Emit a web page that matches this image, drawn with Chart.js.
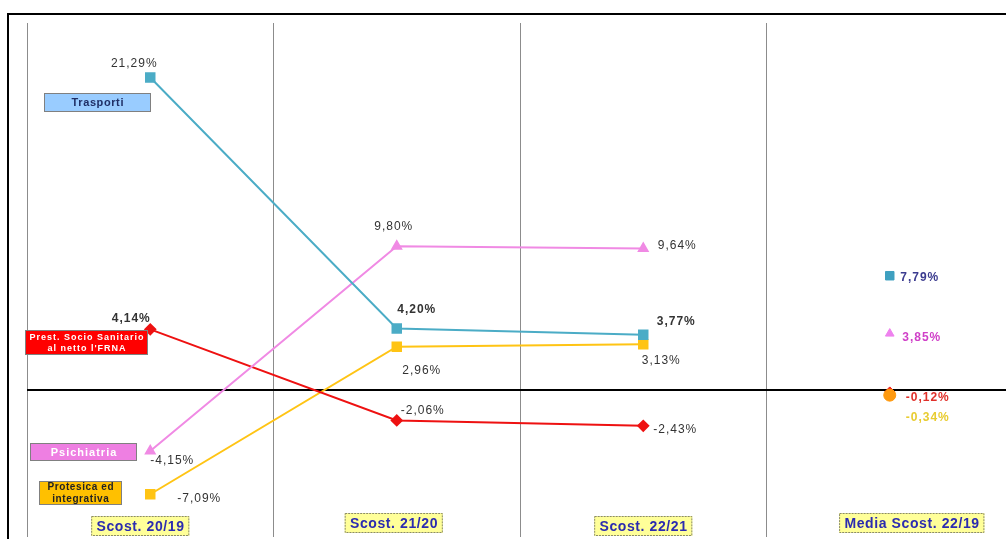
<!DOCTYPE html>
<html>
<head>
<meta charset="utf-8">
<script src="https://cdn.jsdelivr.net/npm/chart.js@4/dist/chart.umd.min.js"></script>
<style>
    html, body { margin: 0; padding: 0; background: #fff; overflow: hidden; }
    #frame {
        position: absolute; left: 7px; top: 13px; width: 1100px; height: 600px;
        border-left: 2px solid #000; border-top: 2px solid #000;
    }
    #chart { position: absolute; left: 0; top: 0; }
</style>
</head>
<body>
<div id="frame"></div>
<canvas id="chart" width="1030" height="560"></canvas>
<script>
// categories and values (percent change)
const categories = ['Scost. 20/19', 'Scost. 21/20', 'Scost. 22/21', 'Media Scost. 22/19'];

const trasporti = [21.29, 4.20, 3.77];
const psichiatria = [-4.15, 9.80, 9.64];
const prestSocio = [4.14, -2.06, -2.43];
const protesica = [-7.09, 2.96, 3.13];

// average 22/19, shown as loose points in the last column
const mediaTrasporti = 7.79;
const mediaPsichiatria = 3.85;
const mediaPrestSocio = -0.12;
const mediaProtesica = -0.34;

const fmt = v => v.toFixed(2).replace('.', ',') + '%';
const withGap = arr => [...arr, null];
const onlyLast = v => [null, null, null, v];

// label offsets from each point [dx, dy, bold]
const labelStyle = {
    trasporti: { color: '#333', offs: [[-16, -14], [20, -19, true], [33, -13, true]] },
    psichiatria: { color: '#333', offs: [[22, 10], [-3, -20], [34, -3]] },
    prestSocio: { color: '#333', offs: [[-19, -11, true], [26, -10], [32, 4]] },
    protesica: { color: '#333', offs: [[49, 4], [25, 24], [18, 17]] },
    mTrasporti: { color: '#3b3b8f', offs: [null, null, null, [30, 2, true]] },
    mPsichiatria: { color: '#d040c8', offs: [null, null, null, [32, 4, true]] },
    mPrestSocio: { color: '#e0302a', offs: [null, null, null, [38, 6, true]] },
    mProtesica: { color: '#e8cc30', offs: [null, null, null, [38, 23, true]] }
};

const lineDs = (key, label, data, color, style, radius) => ({
    key, label, data: withGap(data),
    borderColor: color, backgroundColor: color,
    borderWidth: 2, pointStyle: style, pointRadius: radius,
    pointBorderColor: color, pointBackgroundColor: color,
    tension: 0, spanGaps: false, order: 5
});

const mediaDs = (key, value, color, style, radius, order) => ({
    key, label: key, data: onlyLast(value), showLine: false,
    pointStyle: style, pointRadius: radius,
    pointBorderColor: color, pointBackgroundColor: color, order
});

// series name tags on the left
const seriesTags = [
    { lines: ['Trasporti'], x: 44, y: 93, w: 107, h: 19, bg: '#99ccff', fg: '#1f2f66', spacing: 0.6 },
    { lines: ['Prest. Socio Sanitario', "al netto l'FRNA"], x: 25, y: 330, w: 123, h: 25, bg: '#ff0000', fg: '#fff', size: 9, spacing: 1 },
    { lines: ['Psichiatria'], x: 30, y: 443, w: 107, h: 18, bg: '#ee7fe2', fg: '#fff', spacing: 1 },
    { lines: ['Protesica ed', 'integrativa'], x: 39, y: 481, w: 83, h: 24, bg: '#ffc000', fg: '#222', size: 10, spacing: 0.6 }
];

// category caption offsets from the column centre
const captionOffs = [[-10, 0], [-3, -3], [0, 0], [22, -3]];

const tagsPlugin = {
    id: 'tags',
    afterDraw(chart) {
        const ctx = chart.ctx;
        ctx.save();
        ctx.textAlign = 'center';
        ctx.textBaseline = 'middle';
        seriesTags.forEach(t => {
            ctx.fillStyle = t.bg;
            ctx.fillRect(t.x, t.y, t.w, t.h);
            ctx.strokeStyle = '#808080';
            ctx.lineWidth = 1;
            ctx.strokeRect(t.x + 0.5, t.y + 0.5, t.w - 1, t.h - 1);
            ctx.fillStyle = t.fg;
            ctx.font = `bold ${t.size || 11}px "Liberation Sans", Arial, sans-serif`;
            ctx.letterSpacing = t.spacing + 'px';
            const lh = (t.size || 11) + 2;
            const cy = t.y + t.h / 2 - (t.lines.length - 1) * lh / 2;
            t.lines.forEach((s, i) => ctx.fillText(s, t.x + t.w / 2 + t.spacing / 2, cy + i * lh + 0.5));
        });

        const x = chart.scales.x;
        ctx.font = 'bold 14px "Liberation Sans", Arial, sans-serif';
        ctx.letterSpacing = '0.6px';
        categories.forEach((c, i) => {
            const cx = x.getPixelForValue(i) + captionOffs[i][0];
            const cy = chart.chartArea.bottom - 11 + captionOffs[i][1];
            const w = ctx.measureText(c).width + 10;
            ctx.fillStyle = '#ffff99';
            ctx.fillRect(cx - w / 2, cy - 10, w, 20);
            ctx.strokeStyle = '#8a8a6a';
            ctx.setLineDash([2, 1]);
            ctx.strokeRect(cx - w / 2 + 0.5, cy - 9.5, w - 1, 19);
            ctx.setLineDash([]);
            ctx.fillStyle = '#2b2bb0';
            ctx.fillText(c, cx + 0.3, cy + 1);
        });
        ctx.restore();
    }
};

const valueLabels = {
    id: 'valueLabels',
    afterDatasetsDraw(chart) {
        const ctx = chart.ctx;
        ctx.save();
        ctx.textAlign = 'center';
        ctx.textBaseline = 'middle';
        ctx.letterSpacing = '1px';
        chart.data.datasets.forEach((ds, di) => {
            const st = labelStyle[ds.key];
            const meta = chart.getDatasetMeta(di);
            meta.data.forEach((pt, i) => {
                const v = ds.data[i];
                const o = st.offs[i];
                if (v == null || !o) return;
                ctx.font = `${o[2] ? 'bold ' : ''}12px "Liberation Sans", Arial, sans-serif`;
                ctx.fillStyle = st.color;
                ctx.fillText(fmt(v), pt.x + o[0], pt.y + o[1]);
            });
        });
        ctx.restore();
    }
};

new Chart(document.getElementById('chart'), {
    type: 'line',
    data: {
        labels: categories,
        datasets: [
            mediaDs('mProtesica', mediaProtesica, '#ff9a10', 'circle', 6, 1),
            mediaDs('mPrestSocio', mediaPrestSocio, '#ee1111', 'rectRot', 5, 2),
            mediaDs('mPsichiatria', mediaPsichiatria, '#ee82ee', 'triangle', 5, 2),
            mediaDs('mTrasporti', mediaTrasporti, '#3fa0c0', 'rect', 6, 2),
            lineDs('trasporti', 'Trasporti', trasporti, '#4bacc6', 'rect', 6),
            lineDs('psichiatria', 'Psichiatria', psichiatria, '#f08ae4', 'triangle', 5),
            lineDs('prestSocio', 'Prest. Socio Sanitario', prestSocio, '#ee1111', 'rectRot', 5),
            lineDs('protesica', 'Protesica ed integrativa', protesica, '#ffc414', 'rect', 6)
        ]
    },
    options: {
        responsive: false,
        animation: false,
        layout: { padding: { left: 27, top: 23, right: 17, bottom: 23 } },
        plugins: { legend: { display: false }, tooltip: { enabled: false } },
        scales: {
            x: {
                offset: true,
                ticks: { display: false },
                grid: { offset: true, drawTicks: false, color: '#8c8c8c', lineWidth: 1 },
                border: { display: false }
            },
            y: {
                min: -10,
                max: 25,
                ticks: { display: false, stepSize: 5 },
                grid: {
                    drawTicks: false,
                    color: ctx => ctx.tick && ctx.tick.value === 0 ? '#000' : 'rgba(0,0,0,0)',
                    lineWidth: ctx => ctx.tick && ctx.tick.value === 0 ? 2 : 0
                },
                border: { display: false }
            }
        }
    },
    plugins: [tagsPlugin, valueLabels]
});
</script>
</body>
</html>
